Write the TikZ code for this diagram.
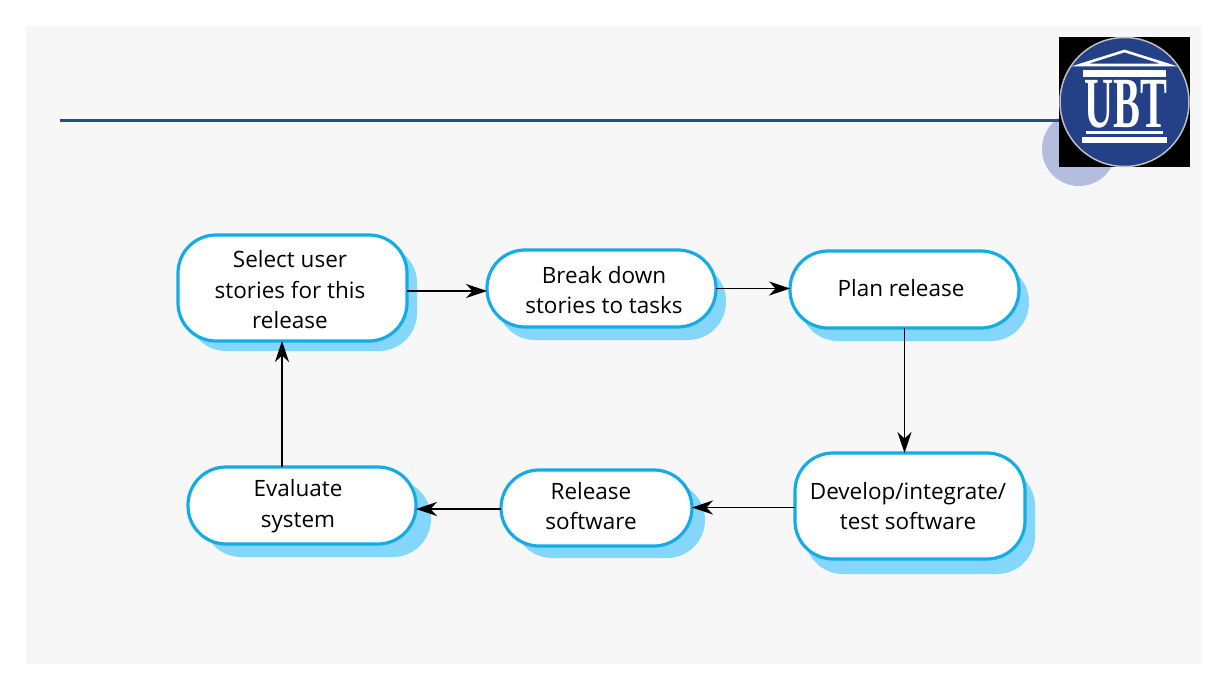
\documentclass[tikz,border=0pt]{standalone}
\usepackage{fontspec}
\setmainfont{Open Sans}
\newfontfamily\logofont{Liberation Serif}
\usetikzlibrary{arrows.meta,calc}
\definecolor{panel}{HTML}{F7F7F8}
\definecolor{rulecol}{HTML}{2A4A8C}
\definecolor{dotcol}{HTML}{B3BEDF}
\definecolor{logoblue}{HTML}{244087}
\definecolor{boxline}{HTML}{13ACE6}
\definecolor{boxshade}{HTML}{84D6FA}
\tikzset{
  x=1pt,y=-1pt,
  every node/.style={inner sep=0pt,outer sep=0pt},
  stepbox/.style={draw=boxline,line width=3.2pt,fill=white,rounded corners=#1},
  stepbox/.default=38pt,
  shadebox/.style={fill=boxshade,rounded corners=#1},
  shadebox/.default=38pt,
  boxtext/.style={align=center,font=\fontsize{22.5}{30.5}\selectfont,text=black},
  flow/.style={draw=black,line width=1.3pt,-{Stealth[length=21pt,width=14pt,inset=6.5pt]}},
}
\newcommand{\boxat}[9]{% name, x1,y1,x2,y2, shadow dx, dy, text cx, text cy
  \node[shadebox,minimum width=#4-#2,minimum height=#5-#3] (#1s) at ({(#2+#4)/2+#6},{(#3+#5)/2+#7}) {};
  \node[stepbox,minimum width=#4-#2,minimum height=#5-#3] (#1) at ({(#2+#4)/2},{(#3+#5)/2}) {};
  \coordinate (#1c) at (#8,#9);
}
\begin{document}
\begin{tikzpicture}
\useasboundingbox (0,0) rectangle (1227,690);
\fill[white] (0,0) rectangle (1227,690);
\fill[panel] (26,26) rectangle (1202,664);
% header
\node[circle,fill=dotcol,minimum size=74pt] (dot) at (1079,149) {};
\node[fill=black,minimum width=131pt,minimum height=130pt] (logobg) at (1124.5,102) {};
\draw[rulecol,line width=2.6pt] (60,120.4) -- (logobg.west |- 0,120.4);
\node[circle,fill=logoblue,draw=white!75!black,line width=1.5pt,minimum size=129pt] (seal) at (1124.5,102) {};
\draw[white,line width=2.6pt,line join=miter] (1080,65) -- (1124.5,51) -- (1169,65) -- cycle;
\fill[white] (1083,70) rectangle (1166,77);
\fill[white] (1086,131) rectangle (1163,134);
\fill[white] (1082,137) rectangle (1167,143);
\node[text=white,xscale=.56,font=\logofont\bfseries\fontsize{72}{72}\selectfont] (ubt) at (1126,104) {UBT};
% boxes
\boxat{sel}{178}{235}{407}{341}{10}{10}{290}{290}
\boxat{brk}{487}{250}{716}{327}{10}{13}{604}{290}
\boxat{pln}{790}{251}{1019}{328}{10}{13}{901}{288}
\boxat{dev}{795}{453}{1025}{559}{10}{15}{908}{506}
\boxat{rel}{501}{470}{692}{546}{13}{12}{591}{506}
\boxat{evl}{188}{467}{416}{544}{15}{13}{298}{506}
\node[boxtext] (t1) at (selc) {Select user\\stories for this\\release};
\node[boxtext] (t2) at (brkc) {Break down\\stories to tasks};
\node[boxtext] (t3) at (plnc) {Plan release};
\node[boxtext] (t4) at (devc) {Develop/integrate/\\test software};
\node[boxtext] (t5) at (relc) {Release\\software};
\node[boxtext] (t6) at (evlc) {Evaluate\\system};
% connectors
\draw[flow] ([yshift=-3pt]sel.east) -- ([yshift=-3pt]sel.east -| brk.west);
\draw[flow] (brk.east) -- (brk.east -| pln.west);
\draw[flow] (pln.south) -- (pln.south |- dev.north);
\draw[flow] ([yshift=-1.5pt]dev.west) -- ([yshift=-1.5pt]dev.west -| rel.east);
\draw[flow] ([yshift=-1pt]rel.west) -- ([yshift=-1pt]rel.west -| evl.east);
\draw[flow] ([xshift=-20pt]evl.north) -- ([xshift=-20pt]evl.north |- sel.south);
\end{tikzpicture}
\end{document}
